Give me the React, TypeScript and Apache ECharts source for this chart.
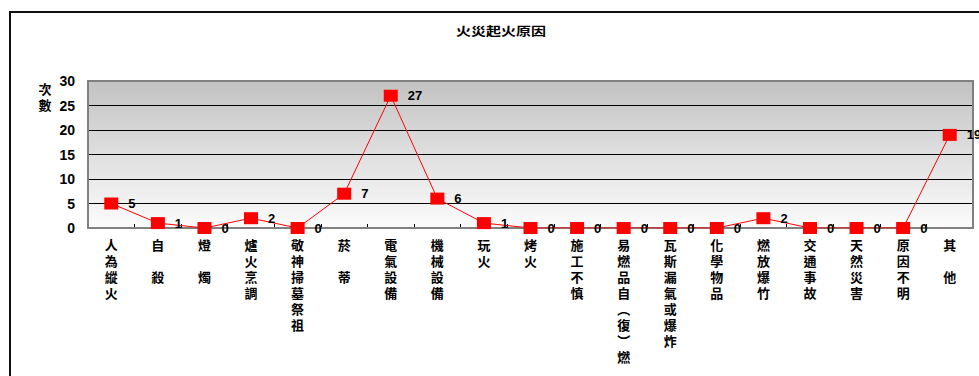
import React, { useEffect, useRef } from "react";
import * as echarts from "echarts";

const title = "火災起火原因";
const yName = "次數";
const categories = [
  "人為縱火",
  "自　殺",
  "燈　燭",
  "爐火烹調",
  "敬神掃墓祭祖",
  "菸　蒂",
  "電氣設備",
  "機械設備",
  "玩火",
  "烤火",
  "施工不慎",
  "易燃品自︵復︶燃",
  "瓦斯漏氣或爆炸",
  "化學物品",
  "燃放爆竹",
  "交通事故",
  "天然災害",
  "原因不明",
  "其　他",
];
const counts = [5, 1, 0, 2, 0, 7, 27, 6, 1, 0, 0, 0, 0, 0, 2, 0, 0, 0, 19];
const yMin = 0;
const yMax = 30;
const yStep = 5;

const FONT = "'Liberation Sans', Arial, 'Noto Sans CJK TC', sans-serif";

export default function App() {
  const ref = useRef<HTMLDivElement>(null);
  useEffect(() => {
    if (!ref.current) return;
    const chart = echarts.init(ref.current, null, { renderer: "svg" });
    const gridLeft = 88;
    const gridTop = 81;
    const gridRight = 6;
    const gridBottom = 148;
    chart.setOption({
      animation: false,
      backgroundColor: "#ffffff",
      textStyle: { fontFamily: FONT },
      grid: {
        left: gridLeft,
        top: gridTop,
        right: gridRight,
        bottom: gridBottom,
        show: true,
        borderWidth: 0,
        backgroundColor: new echarts.graphic.LinearGradient(0, 0, 0, 1, [
          { offset: 0, color: "#c2c2c2" },
          { offset: 1, color: "#fcfcfc" },
        ]),
      },
      xAxis: {
        type: "category",
        data: categories,
        boundaryGap: true,
        axisLine: { show: true, lineStyle: { color: "#000", width: 1 } },
        axisTick: { show: true, inside: true, length: 4, lineStyle: { color: "#000" } },
        axisLabel: {
          interval: 0,
          margin: 9,
          color: "#000",
          fontSize: 13,
          fontWeight: "bold",
          fontFamily: FONT,
          lineHeight: 16,
          formatter: (v: string) => Array.from(v).join("\n"),
        },
      },
      yAxis: {
        type: "value",
        min: yMin,
        max: yMax,
        interval: yStep,
        axisLine: { show: false },
        axisTick: { show: false },
        axisLabel: {
          margin: 13,
          color: "#000",
          fontSize: 14,
          fontWeight: "bold",
          fontFamily: FONT,
        },
        splitLine: { show: true, lineStyle: { color: "#000", width: 1 } },
      },
      graphic: [
        {
          type: "rect",
          shape: { x: 10, y: 12, width: 1000, height: 400 },
          style: { fill: "none", stroke: "#111", lineWidth: 2 },
          z: 0,
        },
        {
          type: "rect",
          shape: { x: gridLeft, y: gridTop, width: 979 - gridLeft - gridRight, height: 376 - gridTop - gridBottom },
          style: { fill: "none", stroke: "#808080", lineWidth: 2 },
          z: 5,
          silent: true,
        },
        {
          type: "text",
          x: 501,
          y: 26,
          scaleX: 1.25,
          style: {
            text: title,
            textAlign: "center",
            textVerticalAlign: "top",
            font: "bold 12px 'Liberation Sans', 'Noto Sans CJK TC', sans-serif",
            fill: "#000",
          },
        },
        {
          type: "text",
          x: 45,
          y: 81,
          style: {
            text: Array.from(yName).join("\n"),
            textAlign: "center",
            textVerticalAlign: "top",
            font: "bold 13px 'Liberation Sans', 'Noto Sans CJK TC', sans-serif",
            lineHeight: 16,
            fill: "#000",
          },
        },
      ],
      series: [
        {
          type: "line",
          data: counts,
          color: "#ff0000",
          lineStyle: { color: "#ff0000", width: 1 },
          symbol: "rect",
          symbolSize: [14, 12],
          itemStyle: { color: "#ff0000" },
          z: 10,
          label: {
            show: true,
            position: "right",
            distance: 10,
            color: "#000",
            fontSize: 13,
            fontWeight: "bold",
            fontFamily: FONT,
          },
        },
      ],
    });
    return () => chart.dispose();
  }, []);
  return (
    <div
      ref={ref}
      style={{ position: "fixed", left: 0, top: 0, width: 979, height: 376 }}
    />
  );
}
